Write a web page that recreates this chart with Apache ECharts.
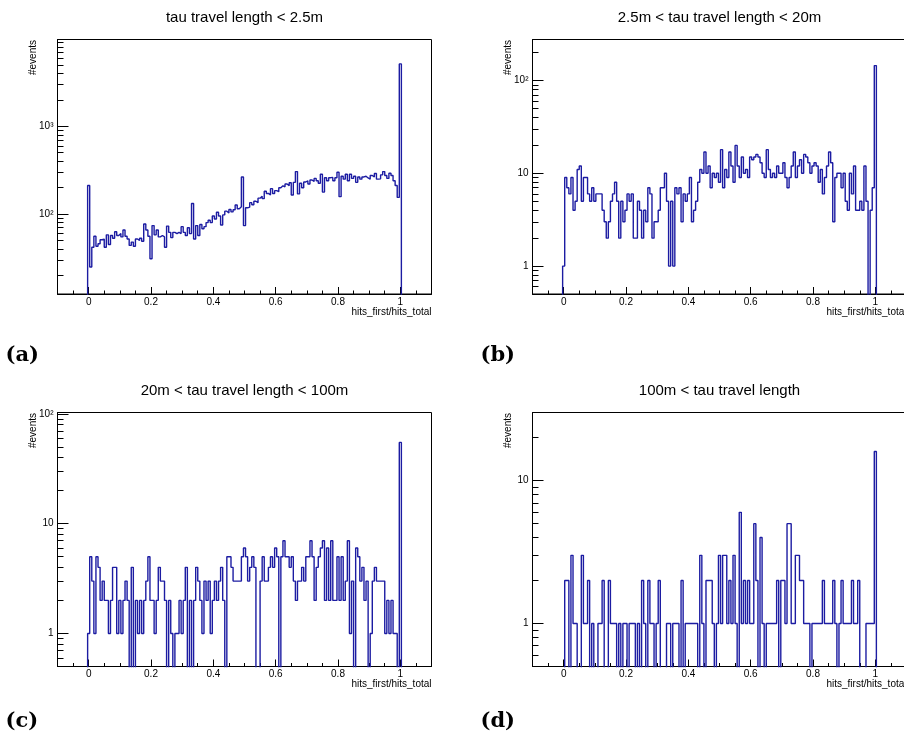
<!DOCTYPE html>
<html><head><meta charset="utf-8">
<script src="https://cdn.jsdelivr.net/npm/echarts@6/dist/echarts.min.js"></script>
<style>html,body{margin:0;padding:0;background:#fff}#c{width:904px;height:744px}</style>
</head><body><div id="c"></div>
<script>
// Histogram binning: 151 bins of width 1/150, centred on 0, 1/150, ..., 1
const BIN_WIDTH = 1 / 150;
const FIRST_BIN_CENTER = 0;

// counts per bin (k = 0 .. 150)
const countsA = [212,25,42,56,43,46,51,52,42,58, 45,57,53,63,57,60,55,66,56,52, 44,48,43,52,50,53,49,77,66,56, 31,74,58,66,55,57,55,42,73,62, 54,62,60,62,60,72,62,57,70,60, 132,52,74,57,76,68,72,80,85,80, 95,88,105,95,75,98,108,103,113,106, 112,127,115,121,265,74,118,120,135,128, 140,135,152,160,150,182,172,165,195,172, 185,180,200,210,205,220,210,228,165,230, 305,170,225,200,232,240,220,245,235,255, 240,225,285,178,260,240,260,262,240,260, 300,158,270,250,285,240,285,255,270,230, 265,250,265,270,258,250,275,265,290,250, 252,280,305,275,255,292,275,240,212,155, 5140];
const countsB = [1,9,7,6,9,4,5,11,12,5, 9,9,6,5,7,5,6,6,6,4, 3,2,3,5,6,8,5,2,5,3, 4,6,5,6,2,2,5,4,2,4, 3,7,6,2,3,3,4,7,7,10, 5,1,5,1,7,6,7,3,6,5, 6,9,3,4,5,8,11,10,17,10, 12,7,10,9,10,8,18,7,11,9, 17,12,8,20,12,9,15,10,11,9, 15,14,15,16,15,13,10,9,18,11, 9,10,9,12,10,10,13,9,7,9, 12,17,9,12,14,10,16,15,13,10, 12,13,12,8,11,6,9,12,17,13, 3,9,10,10,7,10,5,4,10,6, 12,4,4,5,4,12,5,0,4,7, 145];
const countsC = [1,5,3,1,5,4,2,3,2,2, 1,2,4,4,1,2,1,2,3,2, 0,4,0,2,1,2,1,2,3,5, 2,2,1,2,4,3,3,2,0,2, 1,0,1,1,2,1,2,4,0,2, 0,2,4,3,2,1,3,2,3,1, 2,3,2,3,4,2,0,5,5,4, 3,3,3,3,5,6,5,3,4,5, 4,0,0,3,5,3,3,4,5,4, 6,5,0,5,7,5,5,4,5,3, 2,3,3,4,3,5,5,7,5,2, 4,5,6,7,2,6,2,7,2,2, 5,2,5,2,3,7,1,3,0,6, 5,3,4,2,3,0,1,3,4,3, 3,3,3,1,2,1,2,1,1,0, 55];
const countsD = [0,2,2,0,3,1,1,0,0,3, 1,1,2,0,1,0,0,1,1,2, 0,0,2,1,1,1,0,1,0,1, 1,0,1,1,1,0,1,0,2,1, 0,2,1,1,0,1,2,0,0,0, 1,1,0,1,1,1,0,2,0,1, 1,1,1,1,1,0,3,1,0,2, 2,2,1,0,1,3,1,3,3,1, 2,1,3,1,0,6,1,2,1,2, 1,1,5,2,0,4,1,0,1,1, 1,1,1,2,0,2,2,1,5,5, 1,1,3,3,2,2,1,1,1,0, 1,1,1,1,1,2,1,1,1,1, 2,1,0,1,2,1,1,1,1,2, 1,1,2,0,0,0,1,1,1,1, 16];

const titles = ['tau travel length < 2.5m', '2.5m < tau travel length < 20m', '20m < tau travel length < 100m', '100m < tau travel length'];
const panelLabels = ['(a)', '(b)', '(c)', '(d)'];
const xTitle = 'hits_first/hits_total';
const yTitle = '#events';

const xRange = [-0.1, 1.1];
const xMajorTicks = [0, 0.2, 0.4, 0.6, 0.8, 1];
const xMinorTicks = [-0.05, 0.05, 0.1, 0.15, 0.25, 0.3, 0.35, 0.45, 0.5, 0.55, 0.65, 0.7, 0.75, 0.85, 0.9, 0.95, 1.05];

const yRangeA = [12.3, 9750], yRangeB = [0.5, 277], yRangeC = [0.5, 103], yRangeD = [0.5, 30];
const yMajorA = [100, 1000], yLabelA = ['10²', '10³'];
const yMajorB = [1, 10, 100], yLabelB = ['1', '10', '10²'];
const yMajorC = [1, 10, 100], yLabelC = ['1', '10', '10²'];
const yMajorD = [1, 10], yLabelD = ['1', '10'];

const FONT = '"Liberation Sans", Arial, Helvetica, sans-serif';
const LINE_COLOR = '#1c1ca2';

const panels = [
  {counts: countsA, yRange: yRangeA, yMajor: yMajorA, yLabels: yLabelA, left: 57.5, top: 39.5, width: 374, height: 254.5, labelY: 356},
  {counts: countsB, yRange: yRangeB, yMajor: yMajorB, yLabels: yLabelB, left: 532.5, top: 39.5, width: 374, height: 254.5, labelY: 356},
  {counts: countsC, yRange: yRangeC, yMajor: yMajorC, yLabels: yLabelC, left: 57.5, top: 412.5, width: 374, height: 254, labelY: 722},
  {counts: countsD, yRange: yRangeD, yMajor: yMajorD, yLabels: yLabelD, left: 532.5, top: 412.5, width: 374, height: 254, labelY: 722}
];

function minorLogTicks(range) {
  const out = [];
  const d0 = Math.floor(Math.log10(range[0])), d1 = Math.ceil(Math.log10(range[1]));
  for (let d = d0; d <= d1; d++) {
    for (let m = 2; m <= 9; m++) {
      const v = +(m * Math.pow(10, d)).toPrecision(6);
      if (v > range[0] * 1.001 && v < range[1] * 0.999) out.push(v);
    }
  }
  return out;
}

function stepData(counts, floor) {
  const lo0 = FIRST_BIN_CENTER - BIN_WIDTH / 2;
  const pts = [[lo0, floor]];
  counts.forEach((c, k) => pts.push([lo0 + k * BIN_WIDTH, c > 0 ? c : floor]));
  pts.push([lo0 + counts.length * BIN_WIDTH, floor]);
  return pts;
}

const grid = [], xAxis = [], yAxis = [], series = [], graphic = [];
const labelStyle = {color: '#000', fontSize: 10, fontFamily: FONT};

panels.forEach((p, i) => {
  grid.push({left: p.left, top: p.top, width: p.width, height: p.height, show: true,
    borderColor: '#000', borderWidth: 1, backgroundColor: 'rgba(0,0,0,0)', containLabel: false, outerBoundsMode: 'none'});
  xAxis.push({type: 'value', gridIndex: i, min: xRange[0], max: xRange[1], position: 'bottom',
    axisLine: {show: true, onZero: false, lineStyle: {color: '#000', width: 1}},
    axisTick: {show: true, inside: true, length: 7, customValues: xMajorTicks, lineStyle: {color: '#000', width: 1}},
    axisLabel: Object.assign({show: true, margin: 3, customValues: xMajorTicks, formatter: v => String(+(+v).toFixed(2))}, labelStyle),
    splitLine: {show: false}});
  xAxis.push({type: 'value', gridIndex: i, min: xRange[0], max: xRange[1], position: 'bottom',
    axisLine: {show: false, onZero: false},
    axisTick: {show: true, inside: true, length: 3.5, customValues: xMinorTicks, lineStyle: {color: '#000', width: 1}},
    axisLabel: {show: false}, splitLine: {show: false}});
  yAxis.push({type: 'log', logBase: 10, gridIndex: i, min: p.yRange[0], max: p.yRange[1], position: 'left',
    axisLine: {show: true, onZero: false, lineStyle: {color: '#000', width: 1}},
    axisTick: {show: true, inside: true, length: 11, customValues: p.yMajor, lineStyle: {color: '#000', width: 1}},
    axisLabel: Object.assign({show: true, margin: 4, customValues: p.yMajor,
      formatter: v => { const idx = p.yMajor.findIndex(t => Math.abs(Math.log10(t) - Math.log10(v)) < 1e-6); return idx >= 0 ? p.yLabels[idx] : ''; }}, labelStyle),
    splitLine: {show: false}, minorTick: {show: false}});
  yAxis.push({type: 'log', logBase: 10, gridIndex: i, min: p.yRange[0], max: p.yRange[1], position: 'left', offset: 0,
    axisLine: {show: false, onZero: false},
    axisTick: {show: true, inside: true, length: 6, customValues: minorLogTicks(p.yRange), lineStyle: {color: '#000', width: 1}},
    axisLabel: {show: false}, splitLine: {show: false}});
  series.push({type: 'line', xAxisIndex: 2 * i, yAxisIndex: 2 * i, step: 'end', symbol: 'none', showSymbol: false,
    clip: true, silent: true, animation: false,
    lineStyle: {color: LINE_COLOR, width: 1.4}, data: stepData(p.counts, p.yRange[0] / 1000)});

  const cx = p.left + p.width / 2;
  graphic.push({type: 'text', x: cx, y: p.top - 21.5, silent: true,
    style: {text: titles[i], font: '15px ' + FONT, fill: '#000', align: 'center', verticalAlign: 'middle', textAlign: 'center', textVerticalAlign: 'middle'}});
  graphic.push({type: 'text', x: p.left + p.width, y: p.top + p.height + 18, silent: true,
    style: {text: xTitle, font: '10px ' + FONT, fill: '#000', align: 'right', verticalAlign: 'middle', textAlign: 'right', textVerticalAlign: 'middle'}});
  graphic.push({type: 'text', x: p.left - 24.5, y: p.top + 0.5, rotation: Math.PI / 2, silent: true,
    style: {text: yTitle, font: '10px ' + FONT, fill: '#000', align: 'right', verticalAlign: 'middle', textAlign: 'right', textVerticalAlign: 'middle'}});
  graphic.push({type: 'text', x: p.left - 52, y: p.labelY, silent: true,
    style: {text: panelLabels[i], font: 'bold 21px "DejaVu Serif", serif', fill: '#000', align: 'left', verticalAlign: 'middle', textAlign: 'left', textVerticalAlign: 'middle'}});
});

const chart = echarts.init(document.getElementById('c'), null, {renderer: 'canvas'});
chart.setOption({backgroundColor: '#fff', animation: false, grid, xAxis, yAxis, series, graphic});
</script></body></html>
